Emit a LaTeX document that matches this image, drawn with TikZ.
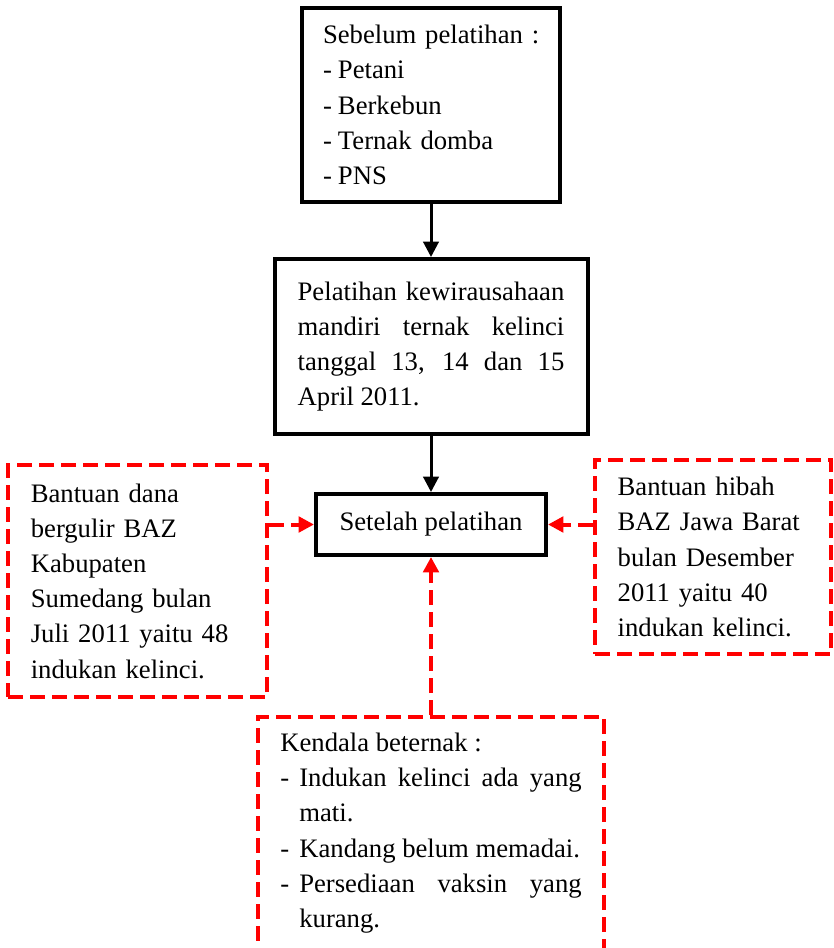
\documentclass[tikz,border=0pt]{standalone}
\usepackage{fontspec}
\setmainfont{Liberation Serif}
\usetikzlibrary{positioning,arrows.meta}
\newcommand{\butir}{\makebox[11.25pt][l]{-}}
\newcommand{\butirgantung}{\hangindent=14.25pt\hangafter=1\makebox[14.25pt][l]{-}}

\begin{document}
\begin{tikzpicture}[
        x=0.75pt, y=-0.75pt,
        >={Stealth[inset=0pt, length=11.5pt, width=11.5pt]},
        every node/.style={font=\fontsize{20}{26.4}\selectfont},
        box/.style={draw, line width=3pt, inner xsep=17pt, inner ysep=0pt},
        dbox/.style={draw=red, line width=3pt, dash pattern=on 11pt off 5.5pt, inner xsep=17pt, inner ysep=0pt},
        edge/.style={draw, line width=2.25pt, ->},
        dedge/.style={draw=red, line width=3pt, dash pattern=on 11pt off 5.5pt, ->}
    ]
        \useasboundingbox (0,0) rectangle (833,948);
        \clip (0,0) rectangle (833,948);

        \node[box, minimum width=192.75pt, minimum height=145.5pt, text width=162pt, inner xsep=15.4pt, align=left] (sebelum) at (431,105)
            {\mbox{Sebelum pelatihan :}\\ \butir Petani\\ \butir Berkebun\\ \butir Ternak domba\\ \butir PNS};
        \node[box, minimum width=234.75pt, minimum height=131.25pt, text width=200pt, align=justify, below=39.75pt of sebelum] (pelatihan)
            {Pelatihan kewirausahaan\linebreak mandiri ternak kelinci\linebreak tanggal 13, 14 dan 15\linebreak April 2011.};
        \node[box, minimum width=172.5pt, minimum height=45.75pt, below=42pt of pelatihan] (setelah) {Setelah pelatihan};

        \node[dbox, minimum width=194.25pt, minimum height=174pt, text width=160pt, align=left] (danaBAZ) at (137.5,581)
            {Bantuan dana\\ bergulir BAZ\\ Kabupaten\\ Sumedang bulan\\ Juli 2011 yaitu 48\\ indukan kelinci.};
        \node[dbox, minimum width=177pt, minimum height=145.5pt, text width=143pt, align=left] (hibahBAZ) at (713,557)
            {Bantuan hibah\\ BAZ Jawa Barat\\ bulan Desember\\ 2011 yaitu 40\\ indukan kelinci.};
        \node[dbox, anchor=north, minimum width=259.5pt, text width=226pt, inner xsep=16.5pt, inner ysep=12pt, align=justify] (kendala) at (431,715)
            {Kendala beternak :\par
             \butirgantung Indukan kelinci ada yang mati.\par
             \butirgantung Kandang belum memadai.\par
             \butirgantung Persediaan vaksin yang kurang.\par
             \rule{0pt}{40pt}};

        \path[edge] (sebelum) -- (pelatihan);
        \path[edge] (pelatihan) -- (setelah);
        \path[dedge] (danaBAZ.east |- setelah) -- (setelah);
        \path[dedge] (hibahBAZ.west |- setelah) -- (setelah);
        \path[dedge] (kendala) -- (setelah);
    \end{tikzpicture}
\end{document}
